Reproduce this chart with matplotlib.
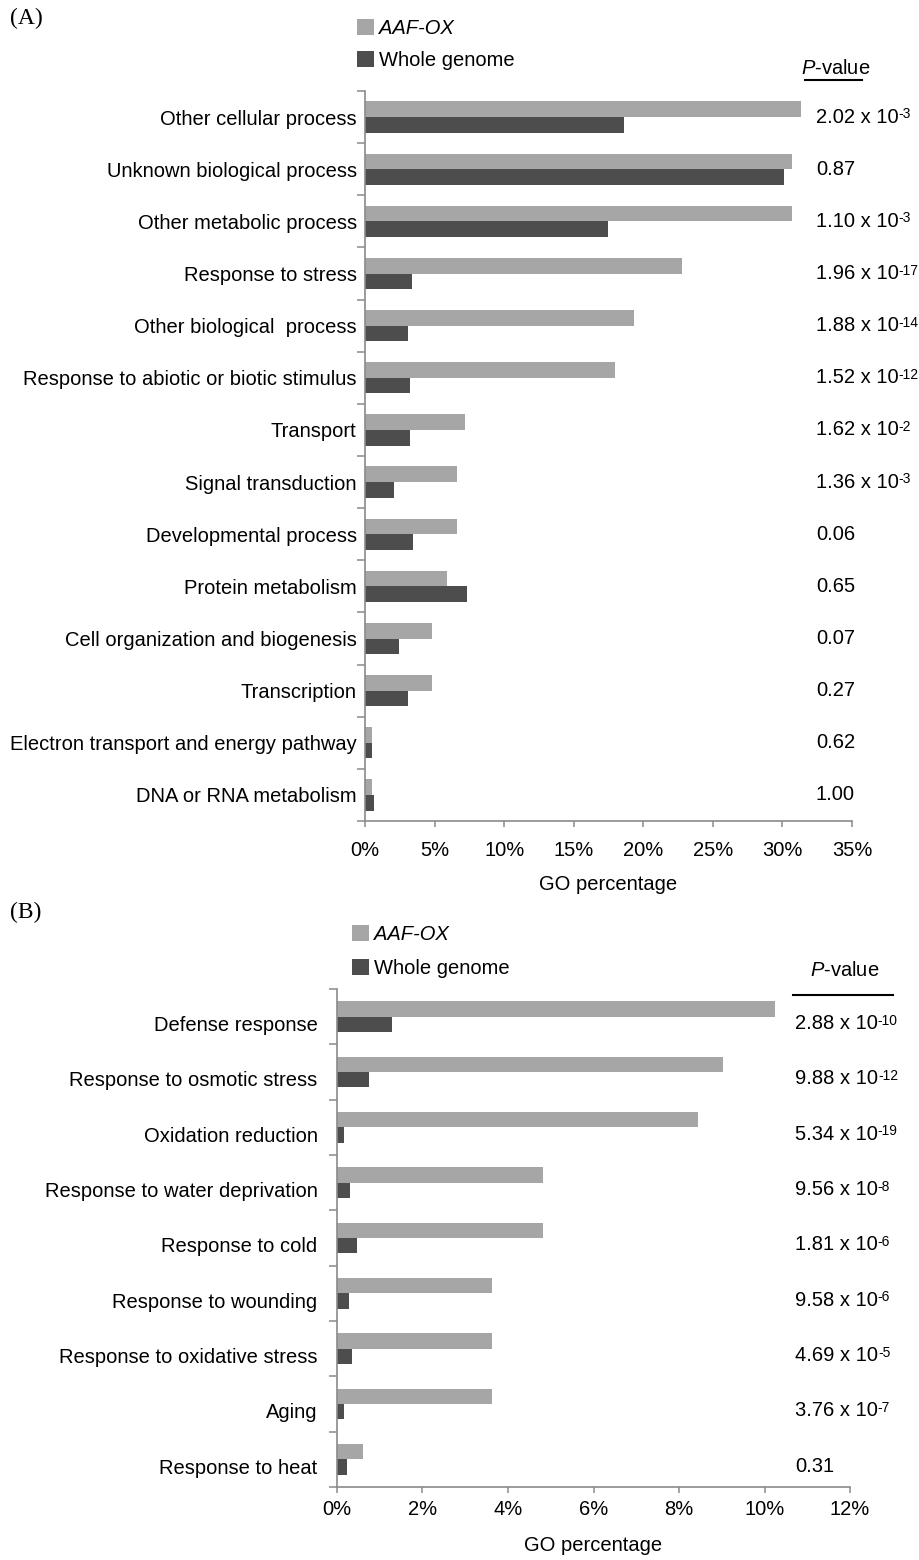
import numpy as np
import matplotlib
matplotlib.use('Agg')
import matplotlib.pyplot as plt
from matplotlib.patches import Patch
from matplotlib.lines import Line2D
from matplotlib.transforms import ScaledTranslation, blended_transform_factory

FS = 14.5
plt.rcParams['font.family'] = ['Liberation Sans', 'DejaVu Sans']
plt.rcParams['font.size'] = FS
plt.rcParams['mathtext.fontset'] = 'custom'
plt.rcParams['mathtext.rm'] = 'Liberation Sans'
plt.rcParams['mathtext.it'] = 'Liberation Sans:italic'

# --- dane: panel A ---
CAT_A = ["Other cellular process", "Unknown biological process", "Other metabolic process",
         "Response to stress", "Other biological  process", "Response to abiotic or biotic stimulus",
         "Transport", "Signal transduction", "Developmental process", "Protein metabolism",
         "Cell organization and biogenesis", "Transcription",
         "Electron transport and energy pathway", "DNA or RNA metabolism"]
AAF_A = [31.3, 30.7, 30.7, 22.8, 19.3, 18.0, 7.2, 6.6, 6.6, 5.9, 4.8, 4.8, 0.5, 0.5]
GENOME_A = [18.6, 30.1, 17.5, 3.4, 3.1, 3.2, 3.2, 2.1, 3.45, 7.3, 2.45, 3.1, 0.5, 0.63]
PVAL_A = ["2.02 x 10^-3", "0.87", "1.10 x 10^-3", "1.96 x 10^-17", "1.88 x 10^-14",
          "1.52 x 10^-12", "1.62 x 10^-2", "1.36 x 10^-3", "0.06", "0.65", "0.07",
          "0.27", "0.62", "1.00"]

# --- dane: panel B ---
CAT_B = ["Defense response", "Response to osmotic stress", "Oxidation reduction",
         "Response to water deprivation", "Response to cold", "Response to wounding",
         "Response to oxidative stress", "Aging", "Response to heat"]
AAF_B = [10.25, 9.04, 8.44, 4.83, 4.83, 3.63, 3.63, 3.63, 0.61]
GENOME_B = [1.28, 0.74, 0.17, 0.31, 0.47, 0.28, 0.36, 0.17, 0.23]
PVAL_B = ["2.88 x 10^-10", "9.88 x 10^-12", "5.34 x 10^-19", "9.56 x 10^-8",
          "1.81 x 10^-6", "9.58 x 10^-6", "4.69 x 10^-5", "3.76 x 10^-7", "0.31"]

LIGHT = '#a6a6a6'
DARK = '#4d4d4d'
AXIS = '#8a8a8a'
W, H = 920, 1560


def fx(px):
    return px / W


def fy(py):
    return 1 - py / H


def draw_panel(fig, ax, cats, aaf, genome, pvals, xmax, xstep, bar_h,
               label_pad, label_dy, p_x, tick_pad, xlabel_pad):
    n = len(cats)
    y = np.arange(n)
    ax.barh(y - bar_h / 2, aaf, height=bar_h, color=LIGHT)
    ax.barh(y + bar_h / 2, genome, height=bar_h, color=DARK)
    ax.set_ylim(n - 0.5, -0.5)
    ax.set_xlim(0, xmax)

    shift = ScaledTranslation(0, -label_dy / 100, fig.dpi_scale_trans)
    ax.set_yticks(y)
    ax.set_yticklabels(cats)
    ax.set_yticks(np.arange(n + 1) - 0.5, minor=True)
    ax.tick_params(axis='y', which='major', length=0, pad=label_pad, labelsize=FS)
    ax.tick_params(axis='y', which='minor', length=6, width=1.1, color=AXIS, direction='out')
    if label_dy:
        for lab in ax.get_yticklabels():
            lab.set_transform(lab.get_transform() + shift)

    ticks = np.arange(0, xmax + 1e-9, xstep)
    ax.set_xticks(ticks)
    ax.set_xticklabels([f"{t:g}%" for t in ticks])
    ax.tick_params(axis='x', length=4.5, width=1.1, color=AXIS, direction='out', pad=tick_pad, labelsize=FS)

    for side in ['top', 'right']:
        ax.spines[side].set_visible(False)
    for side in ['left', 'bottom']:
        ax.spines[side].set_color(AXIS)
        ax.spines[side].set_linewidth(1.2)
    ax.set_xlabel('GO percentage', labelpad=xlabel_pad, fontsize=FS)

    # kolumna P-value (wykladnik jako osobny tekst w indeksie gornym)
    trans = blended_transform_factory(fig.transFigure, ax.transData) + shift
    for yi, p in zip(y, pvals):
        base, _, exp = p.partition('^')
        t = ax.text(fx(p_x), yi, base, transform=trans, ha='left', va='center', fontsize=FS)
        if exp:
            ax.annotate(exp, xy=(1, 1.02), xycoords=t, ha='left', va='top', fontsize=10)


fig = plt.figure(figsize=(W / 100, H / 100), dpi=100)

# panel A
axA = fig.add_axes([fx(365), fy(821), fx(852) - fx(365), fy(91) - fy(821)])
draw_panel(fig, axA, CAT_A, AAF_A, GENOME_A, PVAL_A, 35, 5, 0.3, 6, 0, 816, 10, 10.5)

# panel B
axB = fig.add_axes([fx(337), fy(1487), fx(850) - fx(337), fy(989) - fy(1487)])
draw_panel(fig, axB, CAT_B, AAF_B, GENOME_B, PVAL_B, 12, 2, 0.28, 14, 7, 795, 5, 12)

# naglowki P-value z kreska
for cx, cy, x0, x1, ly in [(836, 68, 805, 862, 80), (845, 970, 793, 893, 995)]:
    fig.text(fx(cx), fy(cy), '$P$-value', ha='center', va='center', fontsize=FS)
    fig.add_artist(Line2D([fx(x0), fx(x1)], [fy(ly), fy(ly)], color='black', lw=1.5))

# legendy
handles = [Patch(facecolor=LIGHT, label='AAF-OX'), Patch(facecolor=DARK, label='Whole genome')]
for lx, ly, spacing in [(357, 19, 0.65), (352, 925, 0.75)]:
    leg = fig.legend(handles=handles, loc='upper left', bbox_to_anchor=(fx(lx), fy(ly)),
                     frameon=False, handlelength=0.85, handleheight=0.85, handletextpad=0.25,
                     labelspacing=spacing, borderpad=0, borderaxespad=0, fontsize=FS)
    leg.get_texts()[0].set_fontstyle('italic')

# etykiety paneli
fig.text(fx(10), fy(18), '(A)', family=['Liberation Serif', 'DejaVu Serif'], fontsize=17, va='center')
fig.text(fx(10), fy(912), '(B)', family=['Liberation Serif', 'DejaVu Serif'], fontsize=17, va='center')

fig.savefig('out.png', dpi=100)
